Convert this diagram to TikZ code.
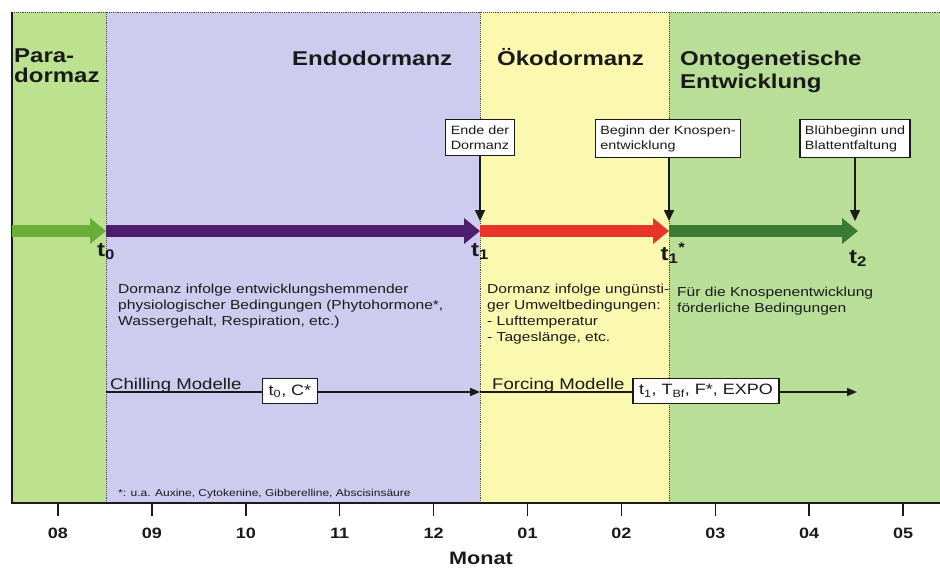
\documentclass[tikz,border=0pt]{standalone}
\usepackage{fontspec}
\setmainfont{Liberation Sans}[FakeStretch=1.2]
\usetikzlibrary{positioning,arrows.meta}
\definecolor{ink}{HTML}{1A1A1A}
\definecolor{rulegrey}{HTML}{4A4A4A}
\definecolor{paragreen}{HTML}{BCE28F}
\definecolor{endoviolet}{HTML}{CDCCEE}
\definecolor{okoyellow}{HTML}{FBF8B0}
\definecolor{ontogreen}{HTML}{B8DE97}
\definecolor{arrlight}{HTML}{6AAE3A}
\definecolor{arrviolet}{HTML}{4E1F6E}
\definecolor{arrred}{HTML}{E8352B}
\definecolor{arrdark}{HTML}{3B7A35}
\tikzset{
  phase/.style={line width=12pt,-{Triangle[length=16pt,width=25pt]}},
  title/.style={anchor=base west,inner sep=0pt,text=ink,align=left,font=\fontsize{20}{23}\selectfont\bfseries},
  body/.style={anchor=north west,inner sep=0pt,text=ink,align=left,font=\fontsize{13}{16}\selectfont},
  eventbox/.style={draw=ink,line width=1.3pt,fill=white,inner xsep=5pt,inner ysep=6pt,align=left,text=ink,font=\fontsize{12}{15}\selectfont},
  modelbox/.style={draw=ink,line width=1.3pt,fill=white,inner xsep=6pt,inner ysep=6pt,text=ink,font=\fontsize{15}{17}\selectfont},
  tlabel/.style={anchor=north,inner sep=0pt,text=ink,font=\fontsize{20}{22}\selectfont\bfseries},
  pointer/.style={ink,line width=1.6pt,-{Triangle[length=11pt,width=10pt]}},
  modelline/.style={ink,line width=1.5pt},
  modellabel/.style={anchor=base west,inner sep=0pt,text=ink,font=\fontsize{15.5}{17}\selectfont},
}
\begin{document}
\begin{tikzpicture}[x=1pt,y=-1pt]
    \useasboundingbox (0,0) rectangle (940,570);
    \fill[paragreen](12,12) rectangle(106,503); \fill[endoviolet](106,12) rectangle(480,503);
    \fill[okoyellow](480,12) rectangle(669,503); \fill[ontogreen](669,12) rectangle(940,503);
    \draw[rulegrey,densely dotted,line width=.9pt](12,12)--(940,12);
    \foreach \x in {106,480,669} \draw[rulegrey,densely dotted,line width=.9pt](\x,12)--(\x,503);
    \draw[ink,line width=1.2pt](12,12)--(12,503)--(940,503);
    % month axis
    \foreach \m [count=\i from 0] in {08,09,10,11,12,01,02,03,04,05}{
      \draw[ink,line width=1.5pt](58+93.9*\i,503)--++(0,13);
      \node[text=ink,font=\fontsize{15}{17}\selectfont\bfseries] (m\m) at (58+93.9*\i,533){\m};
    }
    \node[text=ink,font=\fontsize{18}{20}\selectfont\bfseries] (monat) at (481,558){Monat};
    % phase titles
    \node[title,font=\fontsize{20}{20}\selectfont\bfseries] (paratitle) at (14,82){Para-\\dormaz};
    \node[title] (endotitle) at (292,65){Endodormanz};
    \node[title] (okotitle) at (497,65){Ökodormanz};
    \node[title] (ontotitle) at (680,88){Ontogenetische\\Entwicklung};
    % time line
    \coordinate (p0) at (12,231); \coordinate (pt0) at (106,231); \coordinate (pt1) at (480,231);
    \coordinate (pt1s) at (669,231); \coordinate (pt2) at (858,231);
    \draw[phase,arrlight](p0)--(pt0); \draw[phase,arrviolet](pt0)--(pt1);
    \draw[phase,arrred](pt1)--(pt1s); \draw[phase,arrdark](pt1s)--(pt2);
    \node[tlabel] (t0) at (106,243){t\textsubscript{0}};
    \node[tlabel] (t1) at (480,243){t\textsubscript{1}};
    \node[tlabel] (t1s) at (673,243){t\textsubscript{1}\textsuperscript{*}};
    \node[tlabel] (t2) at (858,250){t\textsubscript{2}};
    % events
    \node[eventbox,anchor=north] (ende) at (480,119){Ende der\\Dormanz};
    \node[eventbox,anchor=north] (beginn) at (668,119){Beginn der Knospen-\\entwicklung};
    \node[eventbox,anchor=north] (bluete) at (855,119){Blühbeginn und\\Blattentfaltung};
    \coordinate (e1) at (480,221); \coordinate (e2) at (669,221); \coordinate (e3) at (855,221);
    \draw[pointer](ende)--(e1); \draw[pointer](beginn.south -| e2)--(e2); \draw[pointer](bluete)--(e3);
    % conditions
    \node[body] (endotext) at (118,284){Dormanz infolge entwicklungshemmender\\physiologischer Bedingungen (Phytohormone*,\\Wassergehalt, Respiration, etc.)};
    \node[body] (okotext) at (487,284){Dormanz infolge ungünsti-\\ger Umweltbedingungen:\\- Lufttemperatur\\- Tageslänge, etc.};
    \node[body] (ontotext) at (677,287){Für die Knospenentwicklung\\förderliche Bedingungen};
    % models
    \coordinate (cs) at (106,392); \coordinate (ce) at (480,392); \coordinate (fe) at (857,392);
    \node[modelbox] (chbox) at (290,391){t\textsubscript{0}, C*};
    \node[modelbox] (fobox) at (706,391){t\textsubscript{1}, T\textsubscript{Bf}, F*, EXPO};
    \draw[modelline](cs)--(cs-|chbox.west); \draw[modelline,-{Triangle[length=10pt,width=8pt]}](ce-|chbox.east)--(ce);
    \draw[modelline](ce)--(ce-|fobox.west); \draw[modelline,-{Triangle[length=10pt,width=8pt]}](fe-|fobox.east)--(fe);
    \node[modellabel] (chill) at (110,389){Chilling Modelle};
    \node[modellabel] (forc) at (492,389){Forcing Modelle};
    \node[anchor=base west,inner sep=0pt,text=ink,font=\fontsize{10}{12}\selectfont] (fussnote) at (118,496){*: u.a. Auxine, Cytokenine, Gibberelline, Abscisinsäure};
  \end{tikzpicture}
\end{document}
